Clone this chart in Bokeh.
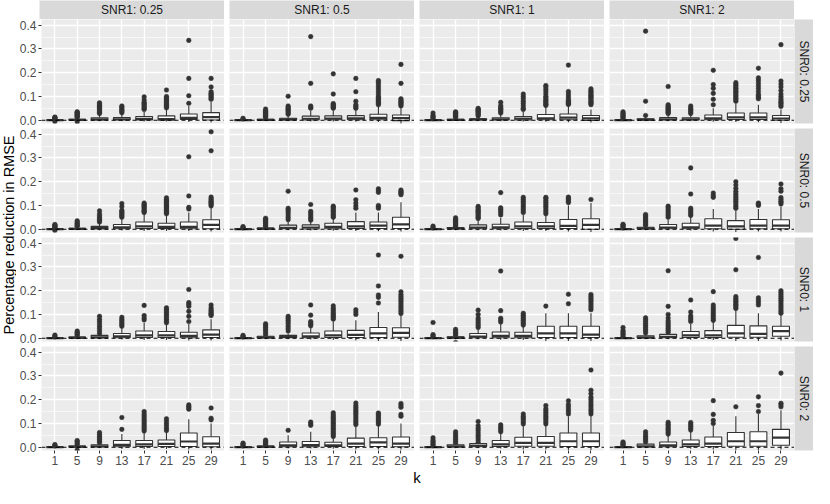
import math
from bokeh.plotting import figure
from bokeh.models import Range1d, FixedTicker, Grid, Span, ColumnDataSource, PrintfTickFormatter
from bokeh.layouts import row, column
from bokeh.embed import file_html
from bokeh.resources import INLINE
from bokeh.core.properties import value

# ---------------- data ----------------
K_LABELS = ["1", "5", "9", "13", "17", "21", "25", "29"]
SNR1_LABELS = ["SNR1: 0.25", "SNR1: 0.5", "SNR1: 1", "SNR1: 2"]
SNR0_LABELS = ["SNR0: 0.25", "SNR0: 0.5", "SNR0: 1", "SNR0: 2"]
Y_TICKS = [0.0, 0.1, 0.2, 0.3, 0.4]
Y_MINOR = [0.05, 0.15, 0.25, 0.35]
HLINE_Y = 0.0

# ---- SNR0 0.25 ----
p11_lo  = [-0.003, -0.004, -0.004, -0.005, -0.006, -0.006, -0.008, -0.010]
p11_q1  = [-0.0005, 0.000, 0.001, 0.001, 0.001, 0.000, 0.003, 0.001]
p11_med = [0.000, 0.001, 0.003, 0.004, 0.005, 0.005, 0.010, 0.013]
p11_q3  = [0.001, 0.004, 0.010, 0.011, 0.015, 0.018, 0.026, 0.032]
p11_hi  = [0.003, 0.009, 0.022, 0.025, 0.035, 0.045, 0.060, 0.078]
p11_out = [[0.005, 0.007, 0.009, 0.011, 0.013, -0.006],
           [0.012, 0.015, 0.018, 0.021, 0.024, 0.027, 0.030, 0.033, 0.035, -0.007],
           [0.028, 0.033, 0.038, 0.043, 0.048, 0.053, 0.058, 0.063, 0.068, 0.073],
           [0.031, 0.036, 0.041, 0.046, 0.051, 0.056, 0.060],
           [0.045, 0.050, 0.055, 0.060, 0.065, 0.070, 0.075, 0.085, 0.098],
           [0.052, 0.057, 0.062, 0.067, 0.072, 0.077, 0.082, 0.088, 0.094, 0.100, 0.127],
           [0.071, 0.103, 0.176, 0.336],
           [0.088, 0.093, 0.098, 0.103, 0.108, 0.113, 0.120, 0.140, 0.176]]

p12_lo  = [-0.003, -0.004, -0.004, -0.006, -0.006, -0.007, -0.008, -0.015]
p12_q1  = [-0.0005, 0.000, 0.001, 0.001, 0.002, 0.002, 0.002, -0.002]
p12_med = [0.000, 0.001, 0.003, 0.006, 0.007, 0.008, 0.010, 0.009]
p12_q3  = [0.001, 0.004, 0.008, 0.017, 0.018, 0.019, 0.025, 0.022]
p12_hi  = [0.003, 0.009, 0.018, 0.040, 0.042, 0.045, 0.060, 0.050]
p12_out = [[0.005, 0.008],
           [0.012, 0.016, 0.020, 0.024, 0.028, 0.032, 0.036, 0.040, 0.047],
           [0.025, 0.030, 0.035, 0.040, 0.045, 0.050, 0.055, 0.060, 0.101],
           [0.050, 0.055, 0.060, 0.155, 0.352],
           [0.050, 0.054, 0.058, 0.062, 0.066, 0.070, 0.110, 0.195],
           [0.050, 0.055, 0.060, 0.065, 0.080, 0.120, 0.176],
           [0.065, 0.070, 0.075, 0.080, 0.085, 0.090, 0.095, 0.100, 0.110, 0.120, 0.130, 0.140, 0.150, 0.160, 0.167],
           [0.060, 0.065, 0.070, 0.075, 0.080, 0.085, 0.090, 0.155, 0.235]]

p13_lo  = [-0.003, -0.003, -0.004, -0.005, -0.006, -0.007, -0.009, -0.010]
p13_q1  = [-0.0005, 0.000, 0.001, 0.001, 0.001, 0.002, 0.002, -0.001]
p13_med = [0.000, 0.001, 0.003, 0.004, 0.006, 0.008, 0.011, 0.008]
p13_q3  = [0.001, 0.004, 0.006, 0.010, 0.015, 0.024, 0.026, 0.020]
p13_hi  = [0.003, 0.009, 0.013, 0.022, 0.036, 0.055, 0.060, 0.045]
p13_out = [[0.006, 0.010, 0.015, 0.020, 0.030],
           [0.012, 0.016, 0.020, 0.024, 0.028, 0.032, 0.035],
           [0.018, 0.022, 0.026, 0.030, 0.034, 0.038, 0.042, 0.046, 0.050],
           [0.030, 0.035, 0.040, 0.045, 0.050, 0.055, 0.062, 0.075],
           [0.045, 0.050, 0.060, 0.070, 0.080, 0.090, 0.100, 0.110],
           [0.062, 0.067, 0.072, 0.077, 0.082, 0.087, 0.095, 0.100, 0.110, 0.120, 0.130, 0.140, 0.146],
           [0.066, 0.070, 0.074, 0.078, 0.082, 0.090, 0.100, 0.110, 0.121, 0.232],
           [0.065, 0.070, 0.075, 0.080, 0.085, 0.090, 0.095, 0.100, 0.105, 0.110, 0.115, 0.120, 0.125, 0.132]]

p14_lo  = [-0.003, -0.004, -0.004, -0.004, -0.007, -0.008, -0.009, -0.012]
p14_q1  = [-0.0005, 0.000, 0.001, 0.001, 0.002, 0.003, 0.003, 0.000]
p14_med = [0.000, 0.002, 0.004, 0.004, 0.008, 0.012, 0.012, 0.007]
p14_q3  = [0.001, 0.006, 0.011, 0.010, 0.022, 0.030, 0.030, 0.020]
p14_hi  = [0.003, 0.014, 0.024, 0.022, 0.050, 0.070, 0.065, 0.045]
p14_out = [[0.006, 0.010, 0.014, 0.018, 0.022, 0.026, 0.030, 0.035],
           [0.020, 0.080, 0.375],
           [0.028, 0.032, 0.036, 0.040, 0.044, 0.048, 0.052, 0.056, 0.060, 0.065, 0.142],
           [0.028, 0.034, 0.040, 0.046, 0.052, 0.060],
           [0.065, 0.088, 0.113, 0.134, 0.150, 0.210],
           [0.080, 0.086, 0.092, 0.098, 0.104, 0.110, 0.116, 0.122, 0.128, 0.134, 0.140, 0.146, 0.152, 0.158],
           [0.090, 0.096, 0.102, 0.108, 0.120, 0.132, 0.144, 0.156, 0.168, 0.178, 0.219],
           [0.058, 0.064, 0.070, 0.076, 0.082, 0.090, 0.100, 0.110, 0.125, 0.140, 0.152, 0.165, 0.318]]

# ---- SNR0 0.5 ----
p21_lo  = [-0.003, -0.004, -0.004, -0.006, -0.008, -0.008, -0.008, -0.010]
p21_q1  = [-0.0005, 0.000, 0.001, 0.002, 0.003, 0.003, 0.002, 0.002]
p21_med = [0.000, 0.001, 0.005, 0.008, 0.012, 0.010, 0.010, 0.018]
p21_q3  = [0.001, 0.004, 0.012, 0.020, 0.030, 0.025, 0.030, 0.040]
p21_hi  = [0.003, 0.009, 0.027, 0.045, 0.065, 0.058, 0.070, 0.090]
p21_out = [[0.005, 0.008, 0.011, 0.014, 0.017, 0.020, -0.006],
           [0.012, 0.016, 0.020, 0.025, 0.030, 0.035],
           [0.030, 0.036, 0.042, 0.048, 0.056, 0.064, 0.077],
           [0.050, 0.055, 0.060, 0.065, 0.070, 0.075, 0.080, 0.095, 0.108],
           [0.070, 0.075, 0.080, 0.085, 0.090, 0.095, 0.100, 0.105, 0.110],
           [0.065, 0.070, 0.075, 0.080, 0.085, 0.090, 0.095, 0.100, 0.105, 0.110, 0.115, 0.120, 0.125, 0.132],
           [0.085, 0.092, 0.140, 0.305],
           [0.098, 0.103, 0.108, 0.113, 0.118, 0.123, 0.128, 0.135, 0.330, 0.410]]

p22_lo  = [-0.003, -0.004, -0.005, -0.006, -0.007, -0.008, -0.009, -0.010]
p22_q1  = [-0.0005, 0.000, 0.002, 0.001, 0.002, 0.003, 0.003, 0.003]
p22_med = [0.000, 0.002, 0.006, 0.007, 0.010, 0.012, 0.015, 0.020]
p22_q3  = [0.001, 0.005, 0.017, 0.018, 0.025, 0.032, 0.030, 0.050]
p22_hi  = [0.003, 0.011, 0.034, 0.036, 0.045, 0.070, 0.070, 0.113]
p22_out = [[0.005, 0.008, 0.011],
           [0.012, 0.017, 0.022, 0.027, 0.032, 0.037, 0.042, 0.046],
           [0.040, 0.050, 0.060, 0.070, 0.080, 0.088, 0.160],
           [0.038, 0.045, 0.052, 0.060, 0.068, 0.075, 0.104],
           [0.050, 0.056, 0.062, 0.068, 0.074, 0.080, 0.086, 0.092, 0.097],
           [0.088, 0.098, 0.110, 0.124, 0.165],
           [0.088, 0.094, 0.100, 0.155, 0.163, 0.170],
           [0.145, 0.150, 0.155, 0.160, 0.165]]

p23_lo  = [-0.003, -0.004, -0.005, -0.006, -0.008, -0.008, -0.010, -0.012]
p23_q1  = [-0.0005, 0.001, 0.002, 0.002, 0.003, 0.003, 0.003, 0.000]
p23_med = [0.000, 0.003, 0.007, 0.008, 0.012, 0.012, 0.014, 0.018]
p23_q3  = [0.001, 0.007, 0.018, 0.021, 0.030, 0.028, 0.041, 0.044]
p23_hi  = [0.003, 0.011, 0.040, 0.047, 0.062, 0.060, 0.100, 0.110]
p23_out = [[0.005, 0.009, 0.013],
           [0.012, 0.017, 0.022, 0.027, 0.032, 0.037, 0.042, 0.048],
           [0.045, 0.050, 0.055, 0.060, 0.065, 0.070, 0.075, 0.080, 0.085, 0.090, 0.096],
           [0.060, 0.068, 0.076, 0.084, 0.090, 0.154],
           [0.070, 0.078, 0.086, 0.094, 0.102, 0.110, 0.118, 0.126, 0.134],
           [0.065, 0.073, 0.081, 0.089, 0.097, 0.105, 0.113, 0.121, 0.129, 0.134],
           [0.112, 0.118, 0.124, 0.130, 0.135],
           [0.125]]

p24_lo  = [-0.003, -0.004, -0.005, -0.006, -0.010, -0.012, -0.010, -0.010]
p24_q1  = [-0.0005, 0.001, 0.002, 0.002, 0.002, 0.000, 0.002, 0.002]
p24_med = [0.000, 0.003, 0.007, 0.008, 0.015, 0.012, 0.015, 0.015]
p24_q3  = [0.001, 0.008, 0.020, 0.025, 0.044, 0.036, 0.041, 0.040]
p24_hi  = [0.003, 0.013, 0.040, 0.052, 0.085, 0.080, 0.085, 0.095]
p24_out = [[0.005, 0.009, 0.013, 0.017, 0.021],
           [0.014, 0.020, 0.026, 0.032, 0.038, 0.044, 0.050, 0.056, 0.062],
           [0.050, 0.058, 0.066, 0.074, 0.082, 0.090, 0.097],
           [0.058, 0.065, 0.072, 0.080, 0.088, 0.148, 0.258],
           [0.134, 0.142, 0.152],
           [0.088, 0.095, 0.102, 0.110, 0.118, 0.126, 0.134, 0.142, 0.150, 0.160, 0.172, 0.186, 0.200],
           [0.100, 0.105, 0.110],
           [0.106, 0.112, 0.118, 0.125, 0.133, 0.160, 0.170, 0.190]]

# ---- SNR0 1 ----
p31_lo  = [-0.003, -0.004, -0.004, -0.006, -0.008, -0.008, -0.010, -0.010]
p31_q1  = [-0.0005, 0.000, 0.001, 0.002, 0.003, 0.003, 0.002, 0.003]
p31_med = [0.000, 0.002, 0.004, 0.008, 0.012, 0.012, 0.010, 0.015]
p31_q3  = [0.001, 0.005, 0.012, 0.020, 0.030, 0.028, 0.025, 0.035]
p31_hi  = [0.003, 0.009, 0.018, 0.045, 0.065, 0.060, 0.060, 0.080]
p31_out = [[0.005, 0.009, 0.013],
           [0.010, 0.015, 0.020, 0.025, 0.030],
           [0.020, 0.030, 0.040, 0.050, 0.060, 0.070, 0.080, 0.092],
           [0.050, 0.056, 0.062, 0.068, 0.074, 0.080, 0.088],
           [0.077, 0.085, 0.095, 0.138],
           [0.065, 0.072, 0.079, 0.086, 0.093, 0.100, 0.107, 0.114, 0.121, 0.128],
           [0.070, 0.092, 0.113, 0.134, 0.143, 0.150, 0.205],
           [0.095, 0.100, 0.105, 0.110, 0.115, 0.120, 0.128, 0.140]]

p32_lo  = [-0.003, -0.004, -0.004, -0.006, -0.008, -0.010, -0.012, -0.012]
p32_q1  = [-0.0005, 0.001, 0.002, 0.002, 0.003, 0.003, 0.003, 0.004]
p32_med = [0.000, 0.003, 0.005, 0.008, 0.012, 0.014, 0.020, 0.022]
p32_q3  = [0.001, 0.008, 0.012, 0.022, 0.030, 0.033, 0.045, 0.044]
p32_hi  = [0.003, 0.013, 0.020, 0.045, 0.070, 0.075, 0.110, 0.098]
p32_out = [[0.005, 0.008, 0.012],
           [0.014, 0.022, 0.030, 0.038, 0.046, 0.054, 0.061],
           [0.030, 0.040, 0.050, 0.060, 0.068, 0.076, 0.084, 0.092],
           [0.052, 0.058, 0.064, 0.070, 0.097, 0.140],
           [0.080, 0.086, 0.092, 0.098, 0.104, 0.110, 0.118, 0.126, 0.136],
           [0.100, 0.110, 0.120],
           [0.148, 0.172, 0.182, 0.220, 0.350],
           [0.104, 0.112, 0.120, 0.128, 0.136, 0.144, 0.152, 0.160, 0.168, 0.176, 0.184, 0.195, 0.345]]

p33_lo  = [-0.003, -0.005, -0.005, -0.007, -0.008, -0.012, -0.012, -0.012]
p33_q1  = [-0.0005, 0.000, 0.002, 0.002, 0.002, 0.003, 0.003, 0.003]
p33_med = [0.000, 0.002, 0.007, 0.010, 0.010, 0.020, 0.020, 0.015]
p33_q3  = [0.001, 0.006, 0.020, 0.026, 0.025, 0.050, 0.050, 0.050]
p33_hi  = [0.003, 0.010, 0.040, 0.060, 0.050, 0.105, 0.105, 0.105]
p33_out = [[0.006, 0.010, 0.015, 0.066],
           [0.012, 0.018, 0.024, 0.030, 0.037, -0.018],
           [0.045, 0.053, 0.061, 0.069, 0.077, 0.085, 0.100, 0.118],
           [0.068, 0.076, 0.084, 0.116, 0.283],
           [0.055, 0.062, 0.069, 0.076, 0.083, 0.090, 0.097, 0.105],
           [0.135],
           [0.145, 0.185],
           [0.120, 0.128, 0.136, 0.144, 0.152, 0.160, 0.168, 0.176, 0.184]]

p34_lo  = [-0.003, -0.004, -0.005, -0.007, -0.008, -0.012, -0.012, -0.010]
p34_q1  = [-0.0005, 0.001, 0.002, 0.003, 0.003, 0.004, 0.004, 0.008]
p34_med = [0.000, 0.003, 0.006, 0.012, 0.012, 0.020, 0.018, 0.030]
p34_q3  = [0.001, 0.010, 0.016, 0.028, 0.032, 0.054, 0.052, 0.050]
p34_hi  = [0.003, 0.018, 0.022, 0.060, 0.070, 0.120, 0.105, 0.100]
p34_out = [[0.008, 0.014, 0.020, 0.026, 0.032, 0.045],
           [0.022, 0.030, 0.038, 0.046, 0.054, 0.062, 0.070, 0.078, 0.086],
           [0.025, 0.033, 0.041, 0.049, 0.057, 0.065, 0.073, 0.085, 0.100, 0.134, 0.284],
           [0.070, 0.078, 0.086, 0.094, 0.110, 0.161],
           [0.075, 0.083, 0.091, 0.099, 0.107, 0.115, 0.123, 0.131, 0.140, 0.196],
           [0.125, 0.131, 0.137, 0.143, 0.149, 0.155, 0.161, 0.167, 0.175, 0.288, 0.420],
           [0.140, 0.150, 0.160, 0.170, 0.340],
           [0.105, 0.112, 0.120, 0.128, 0.136, 0.144, 0.152, 0.160, 0.168, 0.176, 0.184, 0.192, 0.200]]

# ---- SNR0 2 ----
p41_lo  = [-0.003, -0.004, -0.004, -0.008, -0.008, -0.008, -0.010, -0.010]
p41_q1  = [-0.0005, 0.000, 0.001, 0.002, 0.003, 0.003, 0.003, 0.002]
p41_med = [0.000, 0.002, 0.004, 0.010, 0.012, 0.014, 0.024, 0.015]
p41_q3  = [0.001, 0.005, 0.010, 0.028, 0.028, 0.030, 0.060, 0.044]
p41_hi  = [0.003, 0.009, 0.016, 0.055, 0.065, 0.065, 0.118, 0.100]
p41_out = [[0.005, 0.008, 0.011],
           [0.012, 0.018, 0.024, 0.028, -0.012],
           [0.018, 0.025, 0.032, 0.039, 0.046, 0.053, 0.062],
           [0.075, 0.125],
           [0.068, 0.076, 0.084, 0.092, 0.100, 0.108, 0.116, 0.124, 0.132, 0.140, 0.150],
           [0.070, 0.080, 0.090, 0.100, 0.110, 0.120],
           [0.160, 0.166, 0.172, 0.178],
           [0.115, 0.122, 0.165]]

p42_lo  = [-0.003, -0.004, -0.006, -0.006, -0.007, -0.010, -0.010, -0.010]
p42_q1  = [-0.0005, 0.000, 0.002, 0.002, 0.003, 0.003, 0.003, 0.002]
p42_med = [0.000, 0.002, 0.008, 0.009, 0.008, 0.015, 0.020, 0.015]
p42_q3  = [0.001, 0.005, 0.022, 0.024, 0.021, 0.038, 0.040, 0.043]
p42_hi  = [0.003, 0.009, 0.050, 0.065, 0.040, 0.090, 0.090, 0.100]
p42_out = [[0.005, 0.009, 0.013, 0.017],
           [0.010, 0.015, 0.020, 0.025, 0.030],
           [0.071],
           [0.092, 0.099, 0.106],
           [0.045, 0.052, 0.059, 0.066, 0.073, 0.080, 0.087, 0.094, 0.101, 0.108, 0.115, 0.122, 0.129, 0.136, 0.145],
           [0.095, 0.103, 0.111, 0.119, 0.127, 0.135, 0.143, 0.151, 0.159, 0.167, 0.175, 0.186],
           [0.097, 0.104, 0.111, 0.118, 0.125, 0.132, 0.139, 0.144],
           [0.130, 0.138, 0.168, 0.176, 0.184]]

p43_lo  = [-0.003, -0.004, -0.005, -0.006, -0.010, -0.010, -0.012, -0.012]
p43_q1  = [-0.0005, 0.001, 0.002, 0.003, 0.004, 0.004, 0.003, 0.003]
p43_med = [0.000, 0.003, 0.006, 0.012, 0.018, 0.018, 0.025, 0.025]
p43_q3  = [0.001, 0.010, 0.015, 0.028, 0.042, 0.045, 0.060, 0.060]
p43_hi  = [0.003, 0.014, 0.019, 0.060, 0.090, 0.090, 0.130, 0.135]
p43_out = [[0.006, 0.012, 0.018, 0.024, 0.030, 0.040],
           [0.016, 0.024, 0.032, 0.040, 0.048, 0.056, 0.065],
           [0.020, 0.030, 0.040, 0.050, 0.060, 0.070, 0.080, 0.090, 0.108],
           [0.065, 0.072, 0.079, 0.086, 0.094],
           [0.098, 0.106, 0.114, 0.122, 0.130, 0.140],
           [0.098, 0.106, 0.114, 0.122, 0.130, 0.138, 0.146, 0.154, 0.162, 0.175],
           [0.140, 0.150, 0.160, 0.170, 0.180, 0.195],
           [0.140, 0.150, 0.160, 0.170, 0.180, 0.190, 0.200, 0.210, 0.225, 0.240, 0.325]]

p44_lo  = [-0.003, -0.004, -0.006, -0.007, -0.010, -0.012, -0.012, -0.010]
p44_q1  = [-0.0005, 0.001, 0.002, 0.003, 0.003, 0.004, 0.004, 0.008]
p44_med = [0.000, 0.004, 0.008, 0.012, 0.015, 0.025, 0.025, 0.040]
p44_q3  = [0.001, 0.013, 0.022, 0.030, 0.043, 0.062, 0.065, 0.075]
p44_hi  = [0.003, 0.020, 0.050, 0.070, 0.090, 0.130, 0.140, 0.155]
p44_out = [[0.006, 0.010, 0.014, 0.018, 0.022],
           [0.022, 0.030, 0.038, 0.046, 0.055, 0.065],
           [0.055, 0.062, 0.069, 0.076, 0.083, 0.090, 0.097, 0.105],
           [0.072, 0.080, 0.088, 0.096, 0.104],
           [0.100, 0.113, 0.138, 0.196],
           [0.170],
           [0.150, 0.175, 0.212],
           [0.170, 0.178, 0.185, 0.312]]

PANELS = [
    [(p11_lo, p11_q1, p11_med, p11_q3, p11_hi, p11_out), (p12_lo, p12_q1, p12_med, p12_q3, p12_hi, p12_out),
     (p13_lo, p13_q1, p13_med, p13_q3, p13_hi, p13_out), (p14_lo, p14_q1, p14_med, p14_q3, p14_hi, p14_out)],
    [(p21_lo, p21_q1, p21_med, p21_q3, p21_hi, p21_out), (p22_lo, p22_q1, p22_med, p22_q3, p22_hi, p22_out),
     (p23_lo, p23_q1, p23_med, p23_q3, p23_hi, p23_out), (p24_lo, p24_q1, p24_med, p24_q3, p24_hi, p24_out)],
    [(p31_lo, p31_q1, p31_med, p31_q3, p31_hi, p31_out), (p32_lo, p32_q1, p32_med, p32_q3, p32_hi, p32_out),
     (p33_lo, p33_q1, p33_med, p33_q3, p33_hi, p33_out), (p34_lo, p34_q1, p34_med, p34_q3, p34_hi, p34_out)],
    [(p41_lo, p41_q1, p41_med, p41_q3, p41_hi, p41_out), (p42_lo, p42_q1, p42_med, p42_q3, p42_hi, p42_out),
     (p43_lo, p43_q1, p43_med, p43_q3, p43_hi, p43_out), (p44_lo, p44_q1, p44_med, p44_q3, p44_hi, p44_out)],
]

# ---------------- styling / layout ----------------
FONT = "Liberation Sans"
FW, FH = 185, 104          # panel frame size
AXW = 23                   # left axis border
GAP = 5                    # panel spacing
AXH = 19                   # bottom axis border
STRIP = 19
YLW = 16
XLH = 15
BOX_W = 0.75
LINE_C = "#333333"
PANEL_BG = "#EBEBEB"
STRIP_BG = "#D9D9D9"
X_RANGE = (0.4, 8.6)
Y_RANGE = (-0.014, 0.424)


def clear_grids(p):
    p.center = [c for c in p.center if not isinstance(c, Grid)]


def blank_fig(width, height, left=0, top=0, bottom=0, xr=(0, 1), yr=(0, 1), bg="white"):
    f = figure(width=width, height=height, x_range=Range1d(*xr), y_range=Range1d(*yr),
               x_axis_location=None, y_axis_location=None, output_backend="svg",
               toolbar_location=None, min_border=0, min_border_left=left, min_border_right=0,
               min_border_top=top, min_border_bottom=bottom)
    clear_grids(f)
    f.background_fill_color = bg
    f.border_fill_color = "white"
    f.outline_line_color = None
    return f


def make_panel(r, c):
    lo, q1, med, q3, hi, outs = PANELS[r][c]
    left = AXW if c == 0 else GAP
    bottom = AXH if r == 3 else GAP
    p = figure(width=left + FW, height=FH + bottom,
               x_range=Range1d(*X_RANGE), y_range=Range1d(*Y_RANGE),
               x_axis_location="below" if r == 3 else None,
               y_axis_location="left" if c == 0 else None,
               output_backend="svg", toolbar_location=None, min_border=0,
               min_border_left=left, min_border_right=0, min_border_top=0, min_border_bottom=bottom)
    clear_grids(p)
    p.background_fill_color = PANEL_BG
    p.border_fill_color = "white"
    p.outline_line_color = None

    xs = list(range(1, len(K_LABELS) + 1))
    p.add_layout(Grid(dimension=1, ticker=FixedTicker(ticks=Y_TICKS, minor_ticks=Y_MINOR),
                      grid_line_color="white", grid_line_width=1.3,
                      minor_grid_line_color="white", minor_grid_line_width=0.6), "center")
    p.add_layout(Grid(dimension=0, ticker=FixedTicker(ticks=xs),
                      grid_line_color="white", grid_line_width=1.3), "center")

    # outliers
    ox, oy = [], []
    for i, vals in enumerate(outs):
        for v in vals:
            ox.append(xs[i])
            oy.append(v)
    p.scatter(x=ox, y=oy, size=4.6, color=LINE_C, line_width=0.5)

    src = ColumnDataSource(dict(x=xs, lo=lo, q1=q1, med=med, q3=q3, hi=hi,
                                xl=[x - BOX_W / 2 for x in xs], xr=[x + BOX_W / 2 for x in xs]))
    p.segment(x0="x", y0="q3", x1="x", y1="hi", source=src, line_color=LINE_C, line_width=1.1)
    p.segment(x0="x", y0="q1", x1="x", y1="lo", source=src, line_color=LINE_C, line_width=1.1)
    p.vbar(x="x", width=BOX_W, bottom="q1", top="q3", source=src, fill_color="white",
           line_color=LINE_C, line_width=1.1)
    p.segment(x0="xl", y0="med", x1="xr", y1="med", source=src, line_color=LINE_C, line_width=2.2)

    p.add_layout(Span(location=HLINE_Y, dimension="width", line_color="black",
                      line_dash="4 3", line_width=1.1))

    for ax in p.axis:
        ax.axis_line_color = None
        ax.major_tick_line_color = LINE_C
        ax.major_tick_line_width = 1
        ax.major_tick_in = 0
        ax.major_tick_out = 3
        ax.minor_tick_line_color = None
        ax.major_label_text_color = "#4D4D4D"
        ax.major_label_text_font = FONT
        ax.major_label_text_font_size = "12px"
        ax.major_label_standoff = 2
    if r == 3:
        p.xaxis.ticker = FixedTicker(ticks=xs)
        p.xaxis.major_label_overrides = {x: lab for x, lab in zip(xs, K_LABELS)}
    if c == 0:
        p.yaxis.ticker = FixedTicker(ticks=Y_TICKS)
        p.yaxis.formatter = PrintfTickFormatter(format="%.1f")
    return p


# top strips
top_row = []
for c in range(4):
    left = AXW if c == 0 else GAP
    s = blank_fig(left + FW, STRIP, left=left, bg=STRIP_BG)
    s.text(x=[0.5], y=[0.5], text=[SNR1_LABELS[c]], text_align="center", text_baseline="middle",
           text_font=value(FONT), text_font_size="12px", text_color="#1A1A1A")
    top_row.append(s)

rows = [row(*top_row)]
for r in range(4):
    figs = [make_panel(r, c) for c in range(4)]
    bottom = AXH if r == 3 else GAP
    st = blank_fig(STRIP, FH + bottom, bottom=bottom, bg=STRIP_BG)
    st.text(x=[0.5], y=[0.5], text=[SNR0_LABELS[r]], text_align="center", text_baseline="middle",
            angle=-math.pi / 2, text_font=value(FONT), text_font_size="12px", text_color="#1A1A1A")
    figs.append(st)
    rows.append(row(*figs))

total_w = AXW + 4 * FW + 3 * GAP + STRIP
xl = blank_fig(total_w, XLH, xr=(0, total_w), yr=(0, XLH))
xl.text(x=[AXW + (4 * FW + 3 * GAP) / 2], y=[XLH - 7.5], text=["k"], text_align="center",
        text_baseline="middle", text_font=value(FONT), text_font_size="15px", text_color="black")
rows.append(xl)

total_h = STRIP + 4 * FH + 3 * GAP + AXH + XLH
yl = blank_fig(YLW, total_h, xr=(0, YLW), yr=(0, total_h))
yl.text(x=[8.5], y=[total_h - (STRIP + (4 * FH + 3 * GAP) / 2)], text=["Percentage reduction in RMSE"],
        text_align="center", text_baseline="middle", angle=math.pi / 2,
        text_font=value(FONT), text_font_size="14.5px", text_color="black")

layout = row(yl, column(*rows))

open("out.html", "w").write(file_html(layout, INLINE))
